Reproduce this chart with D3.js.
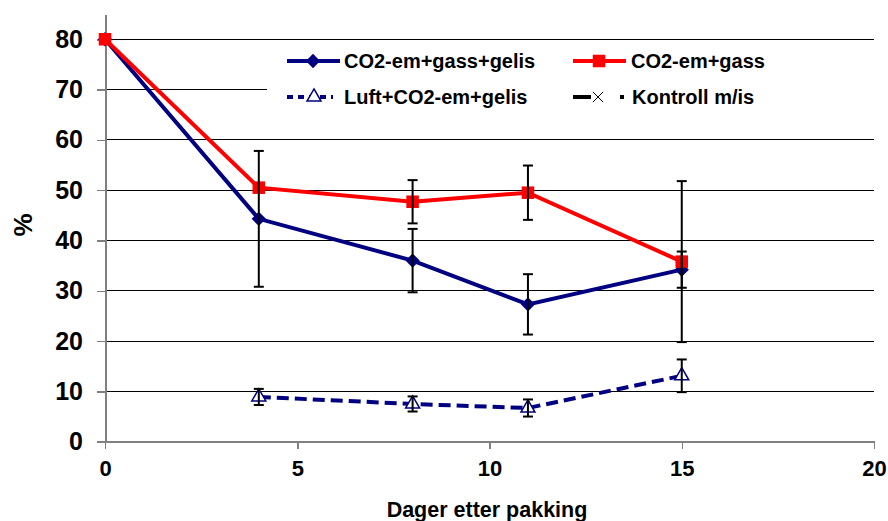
<!DOCTYPE html>
<html>
<head>
<meta charset="utf-8">
<script src="https://cdn.jsdelivr.net/npm/d3@7"></script>
<style>
  body { margin: 0; background: #fff; }
  svg { display: block; font-family: "Liberation Sans", Arial, sans-serif; font-weight: bold; }
</style>
</head>
<body>
<svg id="chart" width="888" height="521"></svg>
<script>
// days after packing
const days = [0, 4, 8, 11, 15];
const co2GassGelis = [80, 44.3, 36.0, 27.3, 34.2];
const co2GassGelisErr = [0, 13.5, 6.3, 6.0, 3.6];
const co2Gass = [80, 50.5, 47.7, 49.5, 35.8];
const co2GassErr = [0, 0, 4.3, 5.4, 16.0];
const luftDays = [4, 8, 11, 15];
const luftGelis = [8.9, 7.5, 6.7, 13.1];
const luftGelisErr = [1.6, 1.5, 1.7, 3.25];
const kontroll = [];   // only in the legend
const xTicks = [0, 5, 10, 15, 20];
const yTicks = [0, 10, 20, 30, 40, 50, 60, 70, 80];

const svg = d3.select('#chart');
const x = d3.scaleLinear().domain([0, 20]).range([105, 874]);
const y = d3.scaleLinear().domain([0, 85]).range([441.7, 14.1]);

// gridlines
svg.append('g')
  .selectAll('line')
  .data(yTicks.filter(d => d > 0))
  .enter()
  .append('line')
  .attr('x1', x(0)).attr('x2', x(20))
  .attr('y1', d => y(d)).attr('y2', d => y(d))
  .attr('stroke', '#000').attr('stroke-width', 1)
  .attr('shape-rendering', 'crispEdges');

// axes
const yAxis = svg.append('g')
  .attr('transform', 'translate(' + x(0) + ',0)')
  .call(d3.axisLeft(y).tickValues(yTicks).tickSize(8).tickSizeOuter(0).tickPadding(14));
yAxis.selectAll('text').style('font-size', '25px').attr('fill', '#000');

const xAxis = svg.append('g')
  .attr('transform', 'translate(0,' + y(0) + ')')
  .call(d3.axisBottom(x).tickValues(xTicks).tickSize(7).tickSizeOuter(0).tickPadding(12));
xAxis.selectAll('text').style('font-size', '22px').attr('fill', '#000');

svg.selectAll('.domain, .tick line')
  .attr('stroke', '#808080').attr('stroke-width', 2)
  .attr('shape-rendering', 'crispEdges');
svg.selectAll('.tick line').attr('stroke-width', 1.5);

// axis titles
svg.append('text')
  .attr('x', 487).attr('y', 517)
  .attr('text-anchor', 'middle')
  .style('font-size', '21.5px')
  .text('Dager etter pakking');

svg.append('text')
  .attr('transform', 'translate(32,' + 225 + ') rotate(-90)')
  .attr('text-anchor', 'middle')
  .style('font-size', '26px')
  .text('%');

// legend box (hides the 70 gridline)
svg.append('rect')
  .attr('x', 267).attr('y', 41)
  .attr('width', 874 - 267).attr('height', 97)
  .attr('fill', '#fff');

const line = d3.line().x(d => x(d[0])).y(d => y(d[1]));
const navy = '#000080';
const red = '#ff0000';

// series lines
svg.append('path')
  .datum(d3.zip(luftDays, luftGelis))
  .attr('d', line)
  .attr('fill', 'none').attr('stroke', navy).attr('stroke-width', 4)
  .attr('stroke-dasharray', '12,6');

svg.append('path')
  .datum(d3.zip(days, co2GassGelis))
  .attr('d', line)
  .attr('fill', 'none').attr('stroke', navy).attr('stroke-width', 4);

svg.append('path')
  .datum(d3.zip(days, co2Gass))
  .attr('d', line)
  .attr('fill', 'none').attr('stroke', red).attr('stroke-width', 4);

// markers
const diamond = d3.symbol().type(d3.symbolDiamond2).size(130);
const square = d3.symbol().type(d3.symbolSquare2).size(200);
const triangle = d3.symbol().type(d3.symbolTriangle2).size(140);

svg.append('g').selectAll('path')
  .data(d3.zip(luftDays, luftGelis))
  .enter().append('path')
  .attr('d', triangle)
  .attr('transform', d => 'translate(' + x(d[0]) + ',' + y(d[1]) + ')')
  .attr('fill', '#fff').attr('stroke', navy).attr('stroke-width', 1.5);

svg.append('g').selectAll('path')
  .data(d3.zip(days, co2GassGelis))
  .enter().append('path')
  .attr('d', diamond)
  .attr('transform', d => 'translate(' + x(d[0]) + ',' + y(d[1]) + ')')
  .attr('fill', navy);

svg.append('g').selectAll('path')
  .data(d3.zip(days, co2Gass))
  .enter().append('path')
  .attr('d', square)
  .attr('transform', d => 'translate(' + x(d[0]) + ',' + y(d[1]) + ')')
  .attr('fill', red);

// error bars
function errorBars(xs, ys, errs) {
  const g = svg.append('g').attr('stroke', '#000').attr('stroke-width', 2);
  const rows = d3.zip(xs, ys, errs).filter(d => d[2] > 0);
  g.selectAll('.v').data(rows).enter().append('line')
    .attr('x1', d => x(d[0])).attr('x2', d => x(d[0]))
    .attr('y1', d => y(d[1] + d[2])).attr('y2', d => y(d[1] - d[2]));
  g.selectAll('.t').data(rows).enter().append('line')
    .attr('x1', d => x(d[0]) - 5).attr('x2', d => x(d[0]) + 5)
    .attr('y1', d => y(d[1] + d[2])).attr('y2', d => y(d[1] + d[2]));
  g.selectAll('.b').data(rows).enter().append('line')
    .attr('x1', d => x(d[0]) - 5).attr('x2', d => x(d[0]) + 5)
    .attr('y1', d => y(d[1] - d[2])).attr('y2', d => y(d[1] - d[2]));
}
errorBars(days, co2GassGelis, co2GassGelisErr);
errorBars(days, co2Gass, co2GassErr);
errorBars(luftDays, luftGelis, luftGelisErr);

// legend
const legend = svg.append('g').style('font-size', '20px');

function legendText(tx, ty, label) {
  legend.append('text').attr('x', tx).attr('y', ty).attr('dy', '0.35em').text(label);
}

// row 1
legend.append('line').attr('x1', 287).attr('x2', 340).attr('y1', 61).attr('y2', 61)
  .attr('stroke', navy).attr('stroke-width', 4);
legend.append('path').attr('d', diamond).attr('transform', 'translate(313,61)').attr('fill', navy);
legendText(344, 61, 'CO2-em+gass+gelis');

legend.append('line').attr('x1', 573).attr('x2', 626).attr('y1', 61).attr('y2', 61)
  .attr('stroke', red).attr('stroke-width', 4);
legend.append('path').attr('d', square).attr('transform', 'translate(599,61)').attr('fill', red);
legendText(631, 61, 'CO2-em+gass');

// row 2
legend.append('line').attr('x1', 287).attr('x2', 333).attr('y1', 97).attr('y2', 97)
  .attr('stroke', navy).attr('stroke-width', 4).attr('stroke-dasharray', '6,5');
legend.append('path').attr('d', triangle).attr('transform', 'translate(314,97)')
  .attr('fill', '#fff').attr('stroke', navy).attr('stroke-width', 1.5);
legendText(344, 97, 'Luft+CO2-em+gelis');

legend.append('line').attr('x1', 573).attr('x2', 626).attr('y1', 97).attr('y2', 97)
  .attr('stroke', '#000').attr('stroke-width', 4).attr('stroke-dasharray', '18,29,4,10');
legend.append('path').attr('d', d3.symbol().type(d3.symbolX).size(70))
  .attr('transform', 'translate(598,97)').attr('fill', 'none')
  .attr('stroke', '#000').attr('stroke-width', 1);
legendText(632, 97, 'Kontroll m/is');
</script>
</body>
</html>
